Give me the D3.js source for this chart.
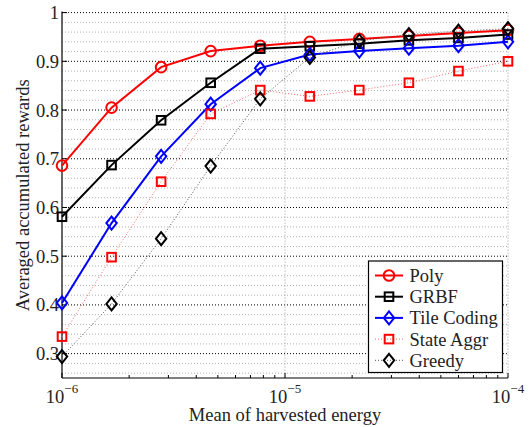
<!DOCTYPE html>
<html><head><meta charset="utf-8">
<script src="https://cdn.jsdelivr.net/npm/d3@7"></script>
<style>body{margin:0;background:#fff}svg{display:block}text{font-family:"Liberation Serif","Times New Roman",serif}</style>
</head><body><svg id="c" width="531" height="427"></svg>
<script>
const xValues = [1e-6, 1.668e-6, 2.783e-6, 4.642e-6, 7.743e-6, 1.292e-5, 2.154e-5, 3.594e-5, 5.995e-5, 1e-4];
const poly   = [0.686, 0.805, 0.888, 0.921, 0.932, 0.940, 0.946, 0.952, 0.958, 0.964];
const grbf   = [0.581, 0.687, 0.779, 0.856, 0.926, 0.931, 0.936, 0.943, 0.948, 0.955];
const tile   = [0.404, 0.568, 0.705, 0.812, 0.886, 0.914, 0.921, 0.927, 0.932, 0.940];
const state  = [0.335, 0.498, 0.653, 0.792, 0.841, 0.828, 0.841, 0.856, 0.880, 0.900];
const greedy = [0.294, 0.402, 0.536, 0.685, 0.823, 0.908, 0.942, 0.955, 0.962, 0.967];
const seriesNames = ["Poly", "GRBF", "Tile Coding", "State Aggr", "Greedy"];
const yTicks = [0.3, 0.4, 0.5, 0.6, 0.7, 0.8, 0.9, 1];
const xTickExps = [-6, -5, -4];

const svg = d3.select("#c");
const L = 62, R = 508, T = 12.6, B = 378;
const x = d3.scaleLog().domain([1e-6, 1e-4]).range([L, R]);
const y = d3.scaleLinear().domain([0.25, 1]).range([B, T]);

const series = [
  {name: seriesNames[0], vals: poly, color: "#ff0000", dash: null, w: 2, marker: "circle"},
  {name: seriesNames[1], vals: grbf, color: "#000000", dash: null, w: 2, marker: "square"},
  {name: seriesNames[2], vals: tile, color: "#0000ff", dash: null, w: 2, marker: "diamond"},
  {name: seriesNames[3], vals: state, color: "#ff0000", dash: "1,2", w: 1, marker: "square", lc: "#ff6666"},
  {name: seriesNames[4], vals: greedy, color: "#000000", dash: "1,2", w: 1, marker: "diamond", lc: "#555"}
];

// minor y grid
const g = svg.append("g");
const minorY = d3.range(0.26, 1.0, 0.02).filter(v => Math.abs(v*10 - Math.round(v*10)) > 1e-6);
g.selectAll(".my").data(minorY).join("line")
  .attr("x1", L).attr("x2", R).attr("y1", d => y(d)).attr("y2", d => y(d))
  .attr("stroke", "#b0b0b0").attr("stroke-width", 1).attr("stroke-dasharray", "1,2");
// major y grid
g.selectAll(".My").data(yTicks).join("line")
  .attr("x1", L).attr("x2", R).attr("y1", d => y(d)).attr("y2", d => y(d))
  .attr("stroke", "#000").attr("stroke-width", 1).attr("stroke-dasharray", "1,2");
// vertical grid
g.selectAll(".vx").data([1e-5, 1e-4]).join("line")
  .attr("x1", d => x(d)).attr("x2", d => x(d)).attr("y1", T).attr("y2", B)
  .attr("stroke", "#999").attr("stroke-width", 1).attr("stroke-dasharray", "1,2");

// axes
const xAxis = d3.axisBottom(x).tickValues(d3.range(-6, -3).flatMap(e => d3.range(1, 10).map(m => m * Math.pow(10, e))).concat([1e-4]))
  .tickSize(0).tickFormat("");
svg.append("line").attr("x1", L).attr("x2", R).attr("y1", B).attr("y2", B).attr("stroke", "#000").attr("stroke-width", 1.2);
svg.append("line").attr("x1", L).attr("x2", L).attr("y1", T-1).attr("y2", B).attr("stroke", "#000").attr("stroke-width", 1.2);
const xt = xAxis.scale().ticks ? null : null;
const tickVals = d3.range(-6, -4).flatMap(e => d3.range(1, 10).map(m => m * Math.pow(10, e))).concat([1e-4]);
svg.selectAll(".xt").data(tickVals).join("line")
  .attr("x1", d => x(d)).attr("x2", d => x(d)).attr("y1", B)
  .attr("y2", d => { const m = d / Math.pow(10, Math.floor(Math.log10(d) + 1e-9)); return Math.abs(m - 1) < 1e-6 ? B - 5 : B - 3; })
  .attr("stroke", "#000").attr("stroke-width", 1);
svg.selectAll(".yt").data(yTicks).join("line")
  .attr("x1", L).attr("x2", L + 5).attr("y1", d => y(d)).attr("y2", d => y(d)).attr("stroke", "#000");

// y tick labels
svg.selectAll(".yl").data(yTicks).join("text")
  .attr("x", 59).attr("y", d => y(d) + 6.5).attr("text-anchor", "end")
  .attr("font-size", 18.5).attr("fill", "#222").text(d => d === 1 ? "1" : d3.format(".1f")(d));
// x tick labels
const xl = svg.selectAll(".xl").data(xTickExps).join("text")
  .attr("x", d => x(Math.pow(10, d))).attr("y", 403).attr("text-anchor", "middle").attr("fill", "#222");
xl.append("tspan").attr("font-size", 18.5).text("10");
xl.append("tspan").attr("font-size", 13).attr("dy", -10).text(d => "\u2212" + Math.abs(d));

// axis labels
svg.append("text").attr("x", (L + R) / 2 - 0).attr("y", 421).attr("text-anchor", "middle")
  .attr("font-size", 18.5).attr("fill", "#222").text("Mean of harvested energy");
svg.append("text").attr("transform", `translate(28.5,${(T + B) / 2}) rotate(-90)`).attr("text-anchor", "middle")
  .attr("font-size", 18.5).attr("fill", "#222").text("Averaged accumulated rewards");

function drawMarker(sel, type, color) {
  if (type === "circle") {
    sel.append("circle").attr("r", 5.3).attr("fill", "none").attr("stroke", color).attr("stroke-width", 2);
  } else if (type === "square") {
    sel.append("rect").attr("x", -4.3).attr("y", -4.3).attr("width", 8.6).attr("height", 8.6)
      .attr("fill", "none").attr("stroke", color).attr("stroke-width", 2);
  } else {
    sel.append("path").attr("d", "M0,-6.5L5.2,0L0,6.5L-5.2,0Z").attr("fill", "none").attr("stroke", color).attr("stroke-width", 2);
  }
}

const line = d3.line().x(d => x(d[0])).y(d => y(d[1]));
series.forEach(s => {
  const pts = xValues.map((xv, i) => [xv, s.vals[i]]);
  svg.append("path").datum(pts).attr("d", line).attr("fill", "none")
    .attr("stroke", s.lc || s.color).attr("stroke-width", s.w).attr("stroke-dasharray", s.dash);
  svg.selectAll(null).data(pts).join("g")
    .attr("transform", d => `translate(${x(d[0])},${y(d[1])})`)
    .each(function () { drawMarker(d3.select(this), s.marker, s.color); });
});

// legend
const lg = svg.append("g");
lg.append("rect").attr("x", 368.5).attr("y", 261).attr("width", 134).attr("height", 111.5)
  .attr("fill", "#fff").attr("stroke", "#000").attr("stroke-width", 1.2);
series.forEach((s, i) => {
  const cy = 275.5 + i * 21.2;
  lg.append("line").attr("x1", 375).attr("x2", 403).attr("y1", cy).attr("y2", cy)
    .attr("stroke", s.lc || s.color).attr("stroke-width", s.w).attr("stroke-dasharray", s.dash);
  drawMarker(lg.append("g").attr("transform", `translate(389,${cy})`), s.marker, s.color);
  lg.append("text").attr("x", 409.5).attr("y", cy + 6.5).attr("font-size", 18.5).attr("fill", "#222").text(s.name);
});
</script></body></html>
